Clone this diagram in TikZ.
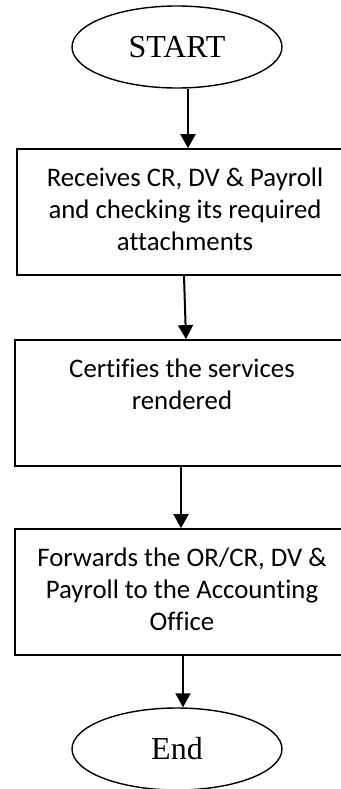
\documentclass[tikz,border=0pt]{standalone}
\usepackage{fontspec}
\setmainfont[Ligatures=NoCommon]{Carlito}
\newfontfamily\tnr{Liberation Serif}
\usetikzlibrary{shapes.geometric,arrows.meta}
\tikzset{
  term/.style={draw, line width=1.4pt, ellipse, minimum width=210pt, minimum height=82pt, inner sep=0pt,
    font=\tnr\fontsize{32pt}{38pt}\selectfont},
  procbox/.style={draw, line width=1.8pt, rectangle, inner sep=0pt, font=\fontsize{26.8pt}{32pt}\selectfont},
  arr/.style={line width=2pt, -{Triangle[width=15pt,length=14pt]}}
}
\newcommand{\boxcontent}[3]{\parbox[c][#1][t]{#2}{\centering\rule{0pt}{37pt}#3}}
\begin{document}
\begin{tikzpicture}[x=1pt,y=-1pt]
\useasboundingbox (0,0) rectangle (340,789);
\node[term] (start) at (177,47) {START};
\node[procbox] (b1) at (185,212) {\boxcontent{126pt}{336pt}{Receives CR, DV \& Payroll\\and checking its required\\attachments}};
\node[procbox] (b2) at (182,403) {\boxcontent{126pt}{334pt}{Certifies the services\\rendered}};
\node[procbox] (b3) at (182,592) {\boxcontent{126pt}{334pt}{Forwards the OR/CR, DV \&\\Payroll to the Accounting\\Office}};
\node[term] (end) at (177,749) {End};
\coordinate (c1) at (188,0);
\coordinate (c2a) at (184,0);
\coordinate (c2b) at (186,0);
\coordinate (c3) at (181,0);
\coordinate (c4) at (183,0);
\draw[arr] (start.south -| c1) -- (b1.north -| c1);
\draw[arr] (b1.south -| c2a) -- (b2.north -| c2b);
\draw[arr] (b2.south -| c3) -- (b3.north -| c3);
\draw[arr] (b3.south -| c4) -- (end.north -| c4);
\end{tikzpicture}
\end{document}
